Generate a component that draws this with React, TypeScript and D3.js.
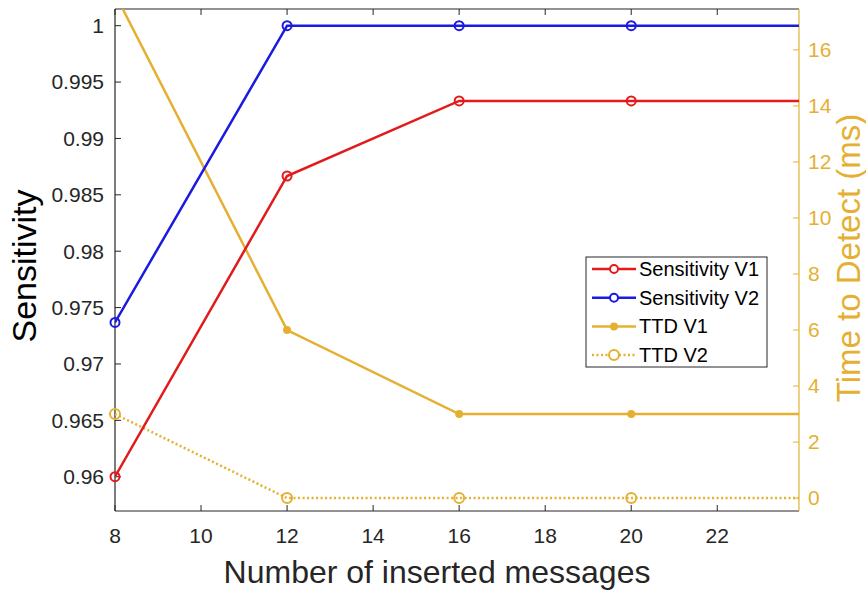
import { useRef, useEffect } from "react";
import * as d3 from "d3";

const messages = [8, 12, 16, 20, 24];
const sensitivityV1 = [0.96, 0.98667, 0.99333, 0.99333, 0.99333];
const sensitivityV2 = [0.97368, 1, 1, 1, 1];
const ttdV1 = [18, 6, 3, 3, 3];
const ttdV2 = [3, 0, 0, 0, 0];

const xTicks = [8, 10, 12, 14, 16, 18, 20, 22];
const leftTicks = [0.96, 0.965, 0.97, 0.975, 0.98, 0.985, 0.99, 0.995, 1];
const rightTicks = [0, 2, 4, 6, 8, 10, 12, 14, 16];

const legendLabels = ["Sensitivity V1", "Sensitivity V2", "TTD V1", "TTD V2"];

const RED = "#e31a1c";
const BLUE = "#1a1ae0";
const GOLD = "#e5b031";
const AXIS = "#262626";
const FONT = "'Liberation Sans', Arial, sans-serif";

export default function App() {
  const svgRef = useRef<SVGSVGElement>(null);
  const width = 866;
  const height = 594;
  const box = { left: 115, top: 9, right: 799, bottom: 511 };

  useEffect(() => {
    if (!svgRef.current) return;
    const svg = d3.select(svgRef.current);
    svg.selectAll("*").remove();

    const xMax = 23.9;
    const x = d3.scaleLinear().domain([8, xMax]).range([box.left, box.right]);
    const yL = d3.scaleLinear().domain([0.95696, 1.00148]).range([box.bottom, box.top]);
    const yR = d3.scaleLinear().domain([-0.46, 17.46]).range([box.bottom, box.top]);

    svg.append("rect").attr("width", width).attr("height", height).attr("fill", "#fff");

    svg.append("clipPath").attr("id", "plot-clip")
      .append("rect")
      .attr("x", box.left).attr("y", box.top)
      .attr("width", box.right - box.left).attr("height", box.bottom - box.top);

    // axes frame
    const frame = svg.append("g").attr("stroke-width", 1.2).attr("fill", "none");
    frame.append("line").attr("x1", box.left).attr("x2", box.right).attr("y1", box.top).attr("y2", box.top).attr("stroke", AXIS);
    frame.append("line").attr("x1", box.left).attr("x2", box.right).attr("y1", box.bottom).attr("y2", box.bottom).attr("stroke", AXIS);
    frame.append("line").attr("x1", box.left).attr("x2", box.left).attr("y1", box.top).attr("y2", box.bottom).attr("stroke", AXIS);
    frame.append("line").attr("x1", box.right).attr("x2", box.right).attr("y1", box.top).attr("y2", box.bottom).attr("stroke", GOLD);

    // x ticks (inward, top and bottom)
    const xt = svg.append("g");
    xTicks.forEach((t) => {
      xt.append("line").attr("x1", x(t)).attr("x2", x(t)).attr("y1", box.bottom).attr("y2", box.bottom - 6).attr("stroke", AXIS);
      xt.append("line").attr("x1", x(t)).attr("x2", x(t)).attr("y1", box.top).attr("y2", box.top + 6).attr("stroke", AXIS);
      xt.append("text").attr("x", x(t)).attr("y", 543).attr("text-anchor", "middle")
        .attr("font-family", FONT).attr("font-size", 21).attr("fill", AXIS).text(t);
    });

    // left ticks
    const lt = svg.append("g");
    leftTicks.forEach((t) => {
      lt.append("line").attr("x1", box.left).attr("x2", box.left + 6).attr("y1", yL(t)).attr("y2", yL(t)).attr("stroke", AXIS);
      lt.append("text").attr("x", 104).attr("y", yL(t)).attr("dy", "0.35em").attr("text-anchor", "end")
        .attr("font-family", FONT).attr("font-size", 21).attr("fill", AXIS).text(t === 1 ? "1" : d3.format(".3~f")(t));
    });

    // right ticks
    const rt = svg.append("g");
    rightTicks.forEach((t) => {
      rt.append("line").attr("x1", box.right).attr("x2", box.right - 6).attr("y1", yR(t)).attr("y2", yR(t)).attr("stroke", GOLD);
      rt.append("text").attr("x", 808).attr("y", yR(t)).attr("dy", "0.35em").attr("text-anchor", "start")
        .attr("font-family", FONT).attr("font-size", 21).attr("fill", GOLD).text(t);
    });

    // axis titles
    svg.append("text").attr("transform", `translate(36,266) rotate(-90)`).attr("text-anchor", "middle")
      .attr("font-family", FONT).attr("font-size", 34).attr("fill", "#000").text("Sensitivity");
    svg.append("text").attr("transform", `translate(860,258) rotate(-90)`).attr("text-anchor", "middle")
      .attr("font-family", FONT).attr("font-size", 33).attr("fill", GOLD).text("Time to Detect (ms)");
    svg.append("text").attr("x", 437).attr("y", 583).attr("text-anchor", "middle")
      .attr("font-family", FONT).attr("font-size", 32).attr("fill", AXIS).text("Number of inserted messages");

    const plot = svg.append("g").attr("clip-path", "url(#plot-clip)");
    const marks = svg.append("g");

    const series = [
      { vals: ttdV2, y: yR, color: GOLD, dash: "2,2.5", marker: "open", r: 5 },
      { vals: ttdV1, y: yR, color: GOLD, dash: null, marker: "dot", r: 4 },
      { vals: sensitivityV1, y: yL, color: RED, dash: null, marker: "open", r: 4.5 },
      { vals: sensitivityV2, y: yL, color: BLUE, dash: null, marker: "open", r: 4.5 },
    ];

    series.forEach((s) => {
      const line = d3.line<number>().x((_, i) => x(messages[i])).y((d) => s.y(d));
      plot.append("path").datum(s.vals).attr("fill", "none").attr("stroke", s.color)
        .attr("stroke-width", 2.5).attr("stroke-dasharray", s.dash).attr("d", line);
      // markers only where the point lies inside the axes limits
      const pts = s.vals
        .map((v, i) => ({ m: messages[i], v }))
        .filter((p) => p.m <= xMax && s.y(p.v) >= box.top && s.y(p.v) <= box.bottom);
      marks.selectAll(null).data(pts).enter().append("circle")
        .attr("cx", (d) => x(d.m)).attr("cy", (d) => s.y(d.v)).attr("r", s.r)
        .attr("fill", s.marker === "dot" ? s.color : "none")
        .attr("stroke", s.color).attr("stroke-width", s.marker === "dot" ? 0 : 2);
    });

    // legend
    const lg = svg.append("g");
    lg.append("rect").attr("x", 586).attr("y", 257).attr("width", 181).attr("height", 110)
      .attr("fill", "#fff").attr("stroke", AXIS).attr("stroke-width", 1);
    const legendStyles = [
      { color: RED, dash: null, marker: "open", r: 4 },
      { color: BLUE, dash: null, marker: "open", r: 4 },
      { color: GOLD, dash: null, marker: "dot", r: 4 },
      { color: GOLD, dash: "2,2.5", marker: "open", r: 5 },
    ];
    legendLabels.forEach((label, i) => {
      const yy = 269 + i * 28.7;
      const st = legendStyles[i];
      lg.append("line").attr("x1", 592).attr("x2", 636).attr("y1", yy).attr("y2", yy)
        .attr("stroke", st.color).attr("stroke-width", 2.5).attr("stroke-dasharray", st.dash);
      lg.append("circle").attr("cx", 614).attr("cy", yy).attr("r", st.r)
        .attr("fill", st.marker === "dot" ? st.color : "#fff")
        .attr("stroke", st.color).attr("stroke-width", st.marker === "dot" ? 0 : 2);
      lg.append("text").attr("x", 639).attr("y", yy).attr("dy", "0.35em")
        .attr("font-family", FONT).attr("font-size", 20).attr("fill", "#000").text(label);
    });
  }, []);

  return (
    <svg
      ref={svgRef}
      width={width}
      height={height}
      style={{ position: "absolute", left: 0, top: 0, display: "block" }}
    />
  );
}
